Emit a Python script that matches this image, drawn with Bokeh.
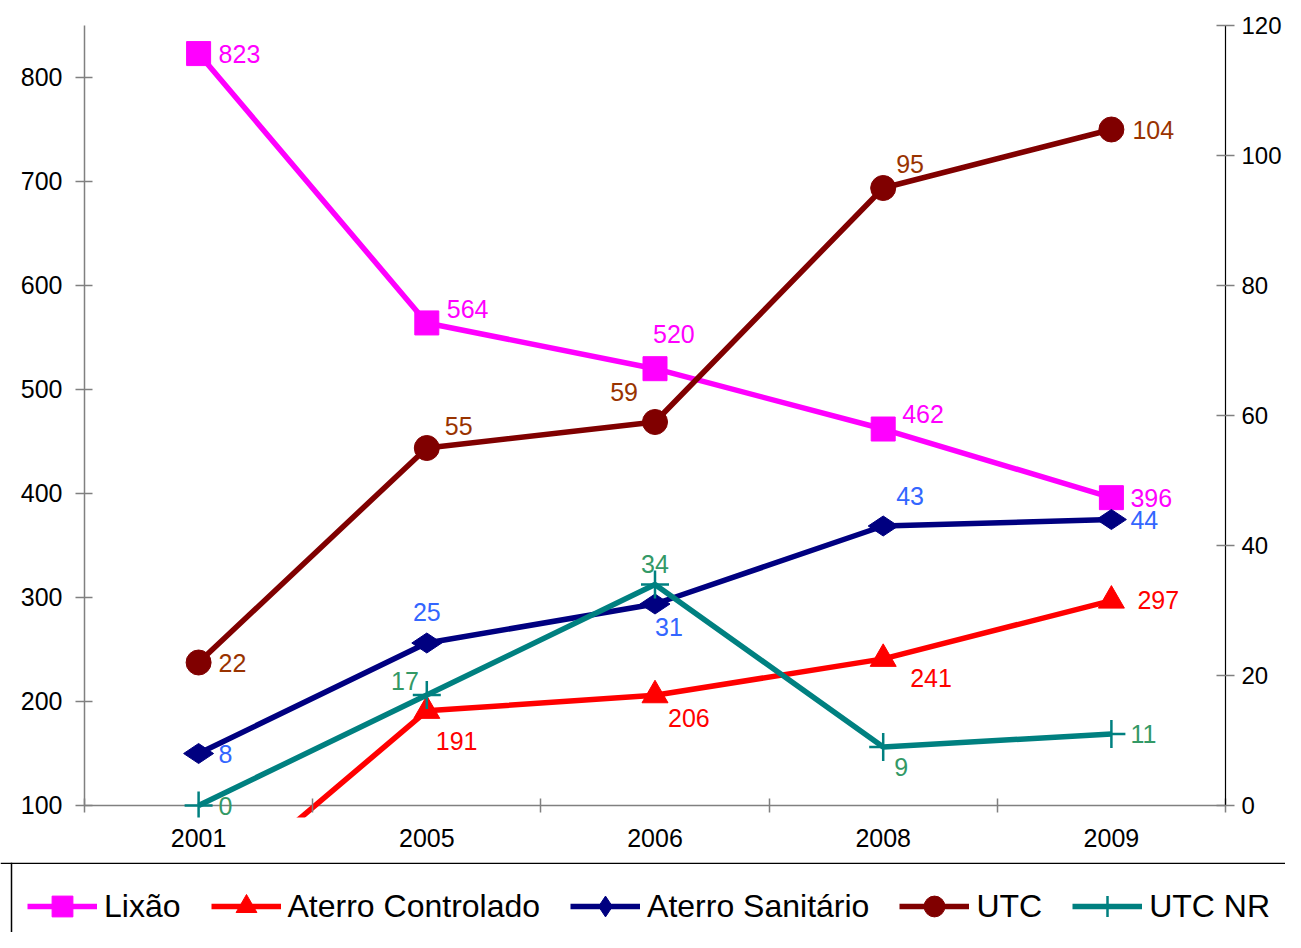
import math
from bokeh.plotting import figure
from bokeh.models import (Range1d, LinearAxis, FixedTicker, Span, Legend, LegendItem,
                          ColumnDataSource)
from bokeh.core.properties import value
from bokeh.embed import file_html
from bokeh.resources import INLINE

# ---------------- data ----------------
years = ["2001", "2005", "2006", "2008", "2009"]
lixao = [823, 564, 520, 462, 396]                 # left axis
aterro_controlado = [5, 191, 206, 241, 297]       # left axis (2001 below visible range, estimated)
aterro_sanitario = [8, 25, 31, 43, 44]            # right axis
utc = [22, 55, 59, 95, 104]                       # right axis
utc_nr = [0, 17, 34, 9, 11]                       # right axis

left_ticks = [100, 200, 300, 400, 500, 600, 700, 800]
right_ticks = [0, 20, 40, 60, 80, 100, 120]

# label placement (dx, dy in screen px, align) -- style only
lix_lbl = [(20, 0, "left"), (20, -14, "left"), (-2, -35, "left"), (19, -15, "left"), (19, 0, "left")]
ac_lbl = [(20, 0, "left"), (9, 30, "left"), (13, 23, "left"), (27, 19, "left"), (26, -1, "left")]
as_lbl = [(20, 0, "left"), (0, -31, "center"), (0, 23, "left"), (13, -30, "left"), (19, 0, "left")]
utc_lbl = [(20, 0, "left"), (18, -22, "left"), (-17, -30, "right"), (13, -24, "left"), (21, 0, "left")]
nr_lbl = [(20, 0, "left"), (-8, -14, "right"), (0, -21, "center"), (11, 20, "left"), (19, 0, "left")]

FONT = "Liberation Sans"
n = len(years)
xs = list(range(n))

W = 1285
H_CHART = 862
H_LEG = 70

p = figure(width=W, height=H_CHART, output_backend="svg", toolbar_location=None,
           x_range=Range1d(-0.5, n - 0.5), y_range=Range1d(88.46, 850),
           min_border_left=84, min_border_right=60, min_border_top=25, min_border_bottom=45,
           background_fill_color="white", border_fill_color="white")
p.outline_line_color = None
p.xgrid.visible = False
p.ygrid.visible = False
p.extra_y_ranges = {"right": Range1d(-1.846, 120)}

# x axis: labels at category centres, ticks at boundaries
xa = p.xaxis[0]
xa.ticker = FixedTicker(ticks=xs, minor_ticks=[i - 0.5 for i in range(n + 1)])
xa.major_label_overrides = {i: y for i, y in enumerate(years)}
xa.major_tick_in = 0
xa.major_tick_out = 0
xa.minor_tick_in = 19
xa.minor_tick_out = -5
xa.minor_tick_line_color = "#808080"
xa.minor_tick_line_width = 1.5
xa.axis_line_color = None
xa.major_label_text_font = FONT
xa.major_label_text_font_size = "25px"
xa.major_label_text_color = "black"
xa.major_label_standoff = 11

ya = p.yaxis[0]
ya.ticker = FixedTicker(ticks=left_ticks)
ya.bounds = (100, 850)
ya.axis_line_color = "#808080"
ya.axis_line_width = 1.5
ya.major_tick_line_color = "#808080"
ya.major_tick_line_width = 1.5
ya.major_tick_in = 8
ya.major_tick_out = 9
ya.minor_tick_line_color = None
ya.major_label_text_font = FONT
ya.major_label_text_font_size = "25px"
ya.major_label_text_color = "black"
ya.major_label_standoff = 13

ra = LinearAxis(y_range_name="right", ticker=FixedTicker(ticks=right_ticks), bounds=(0, 120))
ra.axis_line_color = "black"
ra.axis_line_width = 1.2
ra.major_tick_line_color = "#808080"
ra.major_tick_line_width = 1.5
ra.major_tick_in = 9
ra.major_tick_out = 9
ra.minor_tick_line_color = None
ra.major_label_text_font = FONT
ra.major_label_text_font_size = "24px"
ra.major_label_text_color = "black"
ra.major_label_standoff = 7
p.add_layout(ra, "right")

# category axis baseline at y = 100
p.add_layout(Span(location=100, dimension="width", line_color="#808080", line_width=1.5,
                  level="underlay"))

series = [
    ("Lixão", lixao, "default", "#FF00FF", "square", 24, 0.0, "#FF00FF", lix_lbl),
    ("Aterro Controlado", aterro_controlado, "default", "#FF0000", "triangle", 26, 0.0, "#FF0000", ac_lbl),
    ("Aterro Sanitário", aterro_sanitario, "right", "#000080", "diamond", 30, math.pi / 2, "#3366FF", as_lbl),
    ("UTC", utc, "right", "#800000", "circle", 25, 0.0, "#993300", utc_lbl),
    ("UTC NR", utc_nr, "right", "#008080", "cross", 28, 0.0, "#339966", nr_lbl),
]

# legend strip (separate figure below the chart); its ranges are pixel-like
# and sit far away from the data so only the legend glyphs are shown
LX0, LY0 = 1000, 1000
pl = figure(width=W, height=H_LEG, output_backend="svg", toolbar_location=None,
            x_range=Range1d(LX0, LX0 + W), y_range=Range1d(LY0, LY0 + H_LEG),
            x_axis_location=None, y_axis_location=None,
            min_border_left=0, min_border_right=0, min_border_top=0, min_border_bottom=0,
            background_fill_color="white", border_fill_color="white")
pl.outline_line_color = None
pl.xgrid.visible = False
pl.ygrid.visible = False
# separator line above the legend and the chart-area left border
pl.add_layout(Span(location=LY0 + H_LEG - 0.75, dimension="width", line_color="black",
                   line_width=1.5))
pl.add_layout(Span(location=LX0 + 11, dimension="height", line_color="black",
                   line_width=1.5))


def add_series(fig, src, rng, color, marker, size, ang):
    kw = {} if rng == "default" else {"y_range_name": rng}
    lr = fig.line("x", "y", source=src, line_color=color, line_width=5.5, **kw)
    if marker == "cross":
        mr = fig.scatter("x", "y", source=src, marker=marker, size=size,
                         line_color=color, line_width=2.5, **kw)
    else:
        mr = fig.scatter("x", "y", source=src, marker=marker, size=size, angle=ang,
                         fill_color=color, line_color=color, line_width=1, **kw)
    return lr, mr


items = []
label_specs = []
for name, vals, rng, color, marker, size, ang, lcolor, lbl in series:
    lo = left_ticks[0] if rng == "default" else right_ticks[0]
    src = ColumnDataSource(dict(
        x=xs, y=vals, t=[str(v) if v >= lo else "" for v in vals],
        dx=[l[0] for l in lbl], dy=[l[1] for l in lbl], al=[l[2] for l in lbl]))
    add_series(p, src, rng, color, marker, size, ang)
    lr2, mr2 = add_series(pl, src, "default", color, marker, size, ang)
    items.append(LegendItem(label=name, renderers=[lr2, mr2]))
    label_specs.append((src, rng, lcolor))

for src, rng, lcolor in label_specs:
    kw = {} if rng == "default" else {"y_range_name": rng}
    p.text("x", "y", text="t", source=src, x_offset="dx", y_offset="dy",
           text_align="al", text_baseline="middle", text_color=lcolor,
           text_font=value(FONT), text_font_size="25px", **kw)

legend = Legend(items=items, orientation="horizontal", location=(27, 0),
                glyph_width=70, glyph_height=52, label_standoff=7, spacing=30, padding=0,
                margin=0, border_line_color=None,
                background_fill_color="white", background_fill_alpha=0,
                label_text_font=FONT, label_text_font_size="32px", label_text_color="black")
pl.add_layout(legend, "center")

open("out.html", "w").write(file_html([p, pl], INLINE))
